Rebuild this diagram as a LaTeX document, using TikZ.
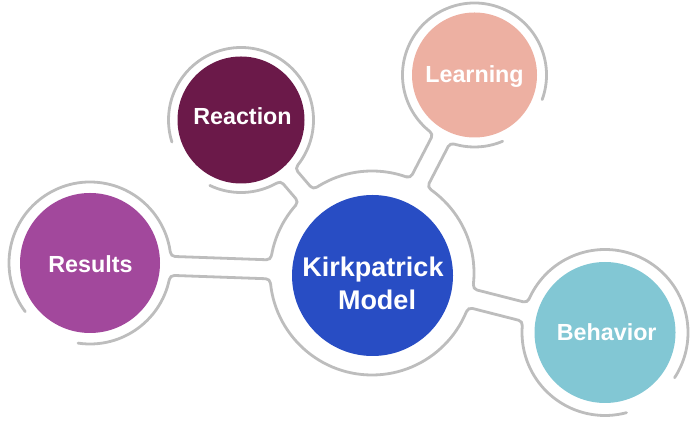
\documentclass[tikz,border=0pt]{standalone}
\usepackage{fontspec}
\setmainfont{Liberation Sans}
\usetikzlibrary{calc}
\definecolor{ringgray}{HTML}{BDBDBD}
\definecolor{creaction}{HTML}{6B1949}
\definecolor{clearning}{HTML}{EDB0A2}
\definecolor{cresults}{HTML}{A2489C}
\definecolor{ccentral}{HTML}{284DC4}
\definecolor{cbehavior}{HTML}{82C7D4}
\tikzset{
  ringline/.style={draw=ringgray, line width=2.8pt, line cap=round},
  disk/.style={circle, inner sep=0pt, draw=none},
  lbl/.style={text=white, font=\fontsize{23.3}{28}\selectfont\bfseries, anchor=base, inner sep=0pt},
  biglbl/.style={text=white, font=\fontsize{27}{32}\selectfont\bfseries, anchor=base, inner sep=0pt}
}
\def\stH{9.5}
\def\stF{5}
% stalk between ring centre #1 (radius #2) and ring centre #3 (radius #4)
\newcommand\stalk[4]{%
  \path let \p1=(#1), \p2=(#3) in \pgfextra{%
    \pgfmathsetmacro\stLtmp{veclen(\x2-\x1,\y2-\y1)}%
    \pgfmathsetmacro\stAngtmp{atan2(\y2-\y1,\x2-\x1)}%
    \xdef\stL{\stLtmp}\xdef\stAng{\stAngtmp}};
  \begin{scope}[shift={(#1)},rotate=\stAng]
    \pgfmathsetmacro\xa{sqrt((#2+\stF)^2-(\stH+\stF)^2)}
    \pgfmathsetmacro\ta{atan2(\stH+\stF,\xa)}
    \pgfmathsetmacro\xb{\stL-sqrt((#4+\stF)^2-(\stH+\stF)^2)}
    \pgfmathsetmacro\tb{atan2(\stH+\stF,\stL-\xb)}
    \fill[white] (0,0) -- (\ta:#2)
      arc[start angle=180+\ta, end angle=270, radius=\stF] -- (\xb,\stH)
      arc[start angle=270, end angle=360-\tb, radius=\stF] -- (\stL,0)
      -- ([shift={(\stL,0)}]180+\tb:#4)
      arc[start angle=\tb, end angle=90, radius=\stF] -- (\xa,-\stH)
      arc[start angle=90, end angle=180-\ta, radius=\stF] -- cycle;
    \draw[ringline] (\ta:#2)
      arc[start angle=180+\ta, end angle=270, radius=\stF] -- (\xb,\stH)
      arc[start angle=270, end angle=360-\tb, radius=\stF];
    \draw[ringline] (-\ta:#2)
      arc[start angle=180-\ta, end angle=90, radius=\stF] -- (\xb,-\stH)
      arc[start angle=90, end angle=\tb, radius=\stF];
  \end{scope}}
\begin{document}
\begin{tikzpicture}[x=1pt,y=1pt]
\useasboundingbox (0,0) rectangle (700,427);
% ring centres
\coordinate (rcent) at (372,154);
\coordinate (rreac) at (241,307);
\coordinate (rlear) at (474.5,352);
\coordinate (rresu) at (90,164);
\coordinate (rbeha) at (605,94.5);
% rings
\draw[ringline] (rcent) circle[radius=102];
\draw[ringline] ($(rreac)+(244.5:72.5)$) arc[start angle=244.5, end angle=557.7, radius=72.5];
\draw[ringline] ($(rlear)+(340:72)$) arc[start angle=340, end angle=653, radius=72];
\draw[ringline] ($(rresu)+(261.5:81)$) arc[start angle=261.5, end angle=576.9, radius=81];
\draw[ringline] ($(rbeha)+(327:83)$) arc[start angle=327, end angle=645, radius=83];
% stalks
\stalk{rreac}{72.5}{rcent}{102}
\stalk{rlear}{72}{rcent}{102}
\stalk{rresu}{81}{rcent}{102}
\stalk{rbeha}{83}{rcent}{102}
% disks
\node[disk, fill=ccentral, minimum size=161] (central) at (372.5,151.5) {};
\node[disk, fill=creaction, minimum size=127] (reaction) at (241,307) {};
\node[disk, fill=clearning, minimum size=125] (learning) at (474.5,352) {};
\node[disk, fill=cresults, minimum size=140] (results) at (90,164) {};
\node[disk, fill=cbehavior, minimum size=141] (behavior) at (605,94.5) {};
% labels
\node[biglbl] (tkirk) at (373,150.3) {Kirkpatrick};
\node[biglbl] (tmodel) at (377,117.7) {Model};
\node[lbl] (treac) at (242.5,302) {Reaction};
\node[lbl] (tlear) at (474.5,344.7) {Learning};
\node[lbl] (tresu) at (90.5,154.7) {Results};
\node[lbl] (tbeha) at (606.7,86.3) {Behavior};
\end{tikzpicture}
\end{document}
